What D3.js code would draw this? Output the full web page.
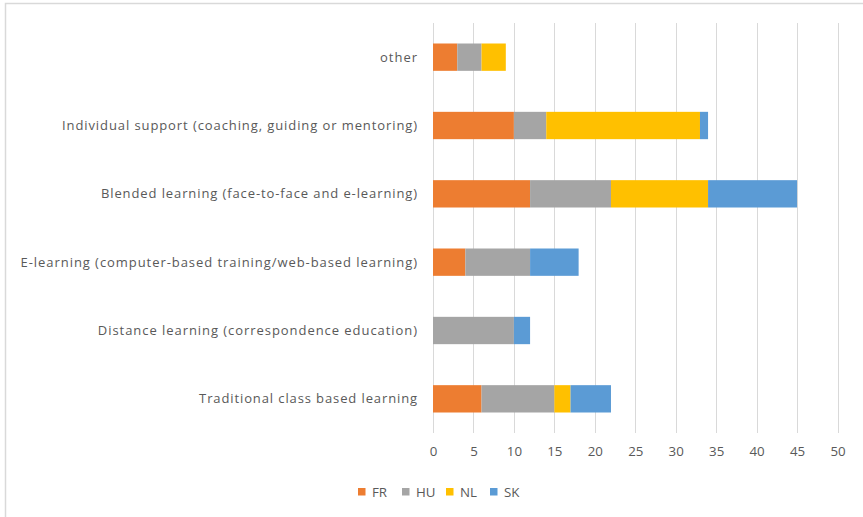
<!DOCTYPE html>
<html><head><meta charset="utf-8">
<script src="https://cdn.jsdelivr.net/npm/d3@7"></script>
<style>body{margin:0;background:#fff}svg{display:block;font-family:"Open Sans",sans-serif}</style>
</head><body>
<svg id="c" width="863" height="517"></svg>
<script>
const categories = ["other","Individual support (coaching, guiding or mentoring)","Blended learning (face-to-face and e-learning)","E-learning (computer-based training/web-based learning)","Distance learning (correspondence education)","Traditional class based learning"];
const seriesNames = ["FR","HU","NL","SK"];
const FR = [3,10,12,4,0,6];
const HU = [3,4,10,8,10,9];
const NL = [3,19,12,0,0,2];
const SK = [0,1,11,6,2,5];
const xTicks = [0,5,10,15,20,25,30,35,40,45,50];
const colors = ["#ED7D31","#A5A5A5","#FFC000","#5B9BD5"];

const svg = d3.select("#c");
svg.append("path").attr("d","M5.5,517 V3.5 H863").attr("fill","none").attr("stroke","#D9D9D9").attr("stroke-width",1.5);

const x = d3.scaleLinear().domain([0,50]).range([433,837.5]);
const y = d3.scaleBand().domain(categories).range([23,433]).paddingInner(0.6).paddingOuter(0.3);

svg.append("g").selectAll("line").data(xTicks).join("line")
  .attr("x1",d=>Math.round(x(d))+0.5).attr("x2",d=>Math.round(x(d))+0.5)
  .attr("y1",23).attr("y2",433).attr("stroke","#D9D9D9").attr("stroke-width",1);

const table = categories.map((c,i)=>({cat:c,FR:FR[i],HU:HU[i],NL:NL[i],SK:SK[i]}));
const stack = d3.stack().keys(seriesNames)(table);
svg.append("g").selectAll("g").data(stack).join("g").attr("fill",(d,i)=>colors[i])
  .selectAll("rect").data(d=>d.filter(s=>s[1]-s[0]>0)).join("rect")
  .attr("x",d=>x(d[0])).attr("width",d=>x(d[1])-x(d[0]))
  .attr("y",d=>y(d.data.cat)).attr("height",y.bandwidth());

const labels = svg.append("g").selectAll("text").data(categories).join("text")
  .attr("x",418).attr("y",d=>y(d)+y.bandwidth()/2).attr("dy","0.35em")
  .attr("text-anchor","end").attr("fill","#595959").style("font-size","13px").text(d=>d);
// fit the longest known label width from the reference (Individual support ~356px)
const ref = labels.filter(d=>d.startsWith("Individual")).node().getComputedTextLength();
const k = 356/ref;
labels.style("letter-spacing", null);
labels.each(function(){
  const t = d3.select(this);
  const w = this.getComputedTextLength();
  const n = this.textContent.length;
  t.style("letter-spacing", ((w*k - w)/n).toFixed(3)+"px");
});

const xa = svg.append("g").attr("transform","translate(0,433)")
  .call(d3.axisBottom(x).tickValues(xTicks).tickSize(0).tickPadding(14));
xa.select(".domain").remove();
xa.selectAll("text").attr("fill","#595959").style("font-size","13.3px").style("font-family","'Open Sans',sans-serif");

const legX = [358,402,446,490];
const leg = svg.append("g").selectAll("g").data(seriesNames).join("g")
  .attr("transform",(d,i)=>`translate(${legX[i]},488)`);
leg.append("rect").attr("width",7.5).attr("height",7.5).attr("fill",(d,i)=>colors[i]);
leg.append("text").attr("x",14).attr("y",4).attr("dy","0.35em").attr("fill","#595959").style("font-size","13.3px").text(d=>d);
</script>
</body></html>
